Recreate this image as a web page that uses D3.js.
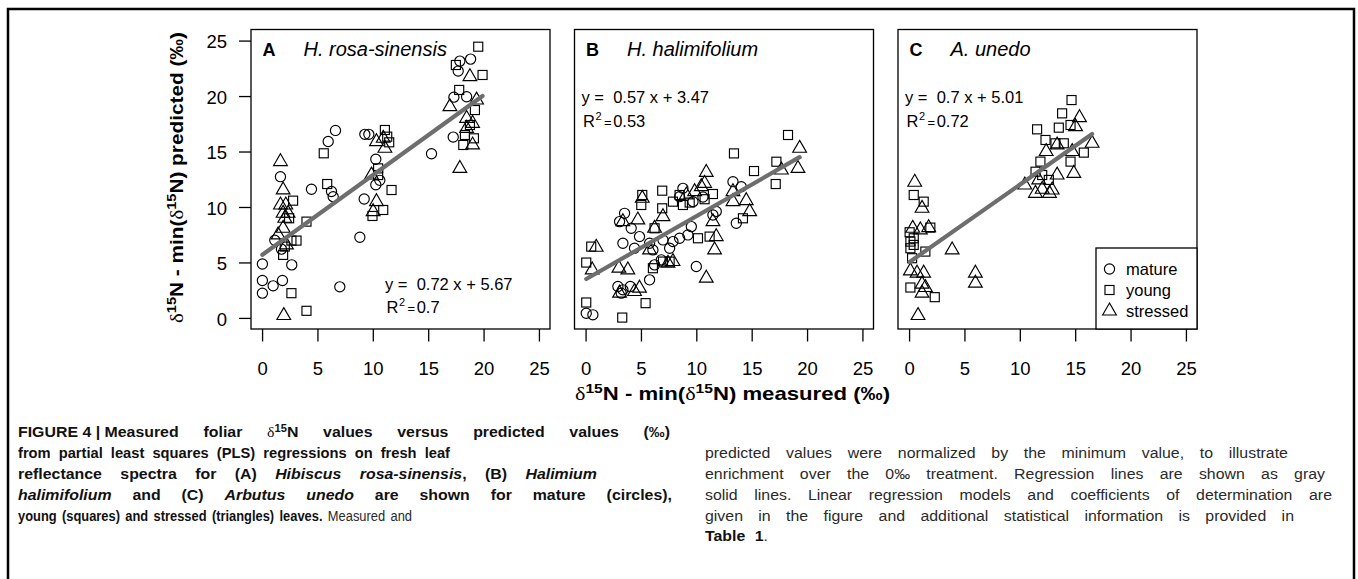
<!DOCTYPE html>
<html>
<head>
<meta charset="utf-8">
<script src="https://cdn.jsdelivr.net/npm/d3@7"></script>
<style>
  body { margin: 0; background: #fff; }
  svg { display: block; }
</style>
</head>
<body>
<svg id="fig" width="1358" height="579"></svg>
<script>
// ---------- data: [measured, predicted] pairs per leaf type ----------
const panelLetters = ["A", "B", "C"];
const speciesNames = ["H. rosa-sinensis", "H. halimifolium", "A. unedo"];
const slopes = [0.72, 0.57, 0.7];
const intercepts = [5.67, 3.47, 5.01];
const rSquared = ["0.7", "0.53", "0.72"];
const xTicks = [0, 5, 10, 15, 20, 25];
const yTicks = [0, 5, 10, 15, 20, 25];
const legendLabels = ["mature", "young", "stressed"];

// Hibiscus rosa-sinensis
const rosaMature = [[0.03,4.86],[0.03,3.37],[0.03,2.23],[1.0,2.89],[1.84,3.37],[2.68,4.78],[7.02,2.8],
  [1.66,12.73],[1.15,7.0],[1.75,6.2],[4.46,11.6],[5.97,15.9],[6.63,16.9],[6.27,11.4],[6.42,10.93],
  [8.83,7.27],[9.28,16.55],[9.64,16.55],[9.22,10.72],[10.27,14.3],[10.27,12.0],[10.63,12.4],
  [15.3,14.8],[17.26,16.3],[17.32,19.9],[17.86,23.15],[17.71,22.25],[18.83,23.33],[18.47,19.94]];
const rosaYoung = [[2.65,2.23],[4.01,0.64],[5.57,14.84],[5.88,12.07],[4.01,8.68],[2.8,10.57],[2.44,8.98],
  [3.11,6.97],[2.65,6.97],[1.9,5.68],[2.05,6.43],[11.09,16.94],[11.3,16.34],[11.48,15.83],[11.69,11.53],
  [10.94,9.73],[9.97,9.19],[10.48,13.48],[10.48,12.88],[19.52,24.45],[19.91,21.9],[17.5,22.8],
  [17.8,20.55],[19.22,18.74],[18.32,16.49],[19.13,16.19],[18.17,15.59],[18.77,17.39]];
const rosaStressed = [[1.96,0.21],[1.66,14.09],[1.9,11.54],[1.66,10.18],[2.14,10.18],[1.9,9.43],[2.35,9.43],
  [1.9,8.08],[1.45,7.48],[2.2,6.58],[2.05,8.98],[9.88,12.88],[10.33,15.89],[10.94,16.19],[11.09,15.29],
  [10.33,10.48],[10.03,9.58],[17.86,13.48],[16.96,19.04],[18.77,21.75],[18.47,17.99],[18.47,17.09],
  [19.01,17.54],[19.01,15.59],[19.37,19.64]];

// Halimium halimifolium
const haliMature = [[0.06,0.42],[0.66,0.28],[2.92,2.83],[3.37,2.53],[4.04,2.83],[3.22,2.23],[3.07,8.68],
  [3.52,9.43],[3.37,6.73],[4.12,8.08],[4.42,6.28],[4.87,7.33],[5.78,3.43],[6.23,4.78],[6.84,5.23],
  [5.78,6.73],[6.08,6.13],[7.89,6.88],[8.49,7.18],[8.79,11.68],[9.24,7.48],[9.55,8.23],[10.0,4.63],
  [11.5,9.28],[11.8,9.6],[13.31,12.28],[14.06,11.83],[13.61,8.53],[6.99,7.03],[7.59,6.28],[8.49,10.93],
  [9.7,10.48],[10.6,10.9]];
const haliYoung = [[0.06,4.99],[0.06,1.39],[0.51,6.43],[3.31,0.03],[5.42,1.33],[5.12,11.08],[5.03,10.18],
  [6.92,11.47],[6.92,9.88],[6.08,4.48],[6.99,5.08],[7.59,5.08],[8.49,11.08],[8.79,10.18],[11.5,11.17],
  [10.15,7.18],[11.2,7.33],[13.4,14.83],[15.21,13.24],[17.23,14.08],[17.17,12.07],[18.28,16.49],
  [14.21,8.98],[6.23,8.08],[7.89,10.48],[10.75,10.7],[9.4,10.4]];
const haliStressed = [[0.96,6.37],[0.6,4.33],[3.01,4.48],[3.82,4.33],[3.07,2.23],[4.42,2.38],[4.87,2.68],
  [5.12,10.78],[4.72,8.83],[6.23,8.08],[6.99,9.13],[7.89,5.08],[7.44,4.93],[9.85,11.38],[10.45,11.83],
  [10.9,13.12],[10.75,12.13],[11.8,7.33],[11.65,6.13],[10.9,3.58],[13.31,10.48],[14.51,10.57],
  [14.82,9.58],[19.33,15.29],[19.18,13.48],[17.68,13.33],[13.31,11.38],[3.37,8.68],[5.78,6.13],
  [9.1,11.08],[11.5,8.68]];

// Arbutus unedo
const unedoMature = [];
const unedoYoung = [[14.67,19.64],[13.82,18.44],[13.52,17.15],[14.58,17.39],[11.56,17.0],[12.32,16.04],
  [13.22,15.74],[13.97,15.74],[15.78,14.9],[14.58,14.09],[11.86,14.09],[12.02,12.88],[11.42,13.18],
  [12.62,12.44],[0.42,11.08],[1.32,10.48],[0.05,7.72],[1.92,8.14],[0.12,6.88],[0.12,6.28],[0.42,7.18],
  [0.42,6.58],[1.47,5.98],[0.27,5.38],[0.12,2.74],[2.32,1.87]];
const unedoStressed = [[15.39,18.05],[15.03,17.24],[16.53,15.74],[13.37,15.59],[12.38,15.0],[14.73,15.0],
  [13.37,12.88],[14.88,13.03],[10.45,11.98],[11.71,12.44],[11.41,11.23],[12.68,11.23],[12.92,11.53],
  [0.51,12.23],[1.17,9.88],[0.33,8.08],[1.02,7.93],[1.77,8.14],[3.89,6.13],[5.99,4.03],[5.99,3.13],
  [0.12,4.24],[0.72,4.03],[1.32,4.03],[1.17,3.04],[1.47,2.74],[1.17,2.23],[0.81,0.21],[12.02,11.6]];

const panelData = [
  [rosaMature, rosaYoung, rosaStressed],
  [haliMature, haliYoung, haliStressed],
  [unedoMature, unedoYoung, unedoStressed]
];

// ---------- layout ----------
const FONT = "'Liberation Sans', Arial, Helvetica, sans-serif";
const SERIF = "'Liberation Serif', 'DejaVu Serif', serif";
const svg = d3.select("#fig");
svg.append("rect").attr("width", 1358).attr("height", 579).attr("fill", "#fff");

// figure frame (open at the bottom)
svg.append("path")
  .attr("d", "M8,579 V9 H1354 V579")
  .attr("fill", "none").attr("stroke", "#000").attr("stroke-width", 2.5);

const plotW = 299, plotH = 299.5, plotTop = 29.5;
const panelLeft = [251, 574.5, 898];

// marker shapes (R pch 1, 0, 2 proportions)
const R0 = 5.1;
function drawMarker(g, type, cx, cy) {
  if (type === 0) {
    g.append("circle").attr("cx", cx).attr("cy", cy).attr("r", R0);
  } else if (type === 1) {
    const h = R0 * 0.886;
    g.append("rect").attr("x", cx - h).attr("y", cy - h).attr("width", 2 * h).attr("height", 2 * h);
  } else {
    const r = R0 * 1.555, yc = R0 * 0.778, xc = R0 * 1.347;
    g.append("path").attr("d", `M${cx},${cy - r} L${cx + xc},${cy + yc} L${cx - xc},${cy + yc} Z`);
  }
}

panelData.forEach((groups, p) => {
  const x0 = panelLeft[p];
  const x = d3.scaleLinear().domain([-1, 26]).range([x0, x0 + plotW]);
  const y = d3.scaleLinear().domain([-1, 26]).range([plotTop + plotH, plotTop]);
  const g = svg.append("g");

  // x axis
  const xa = g.append("g")
    .attr("transform", `translate(0,${plotTop + plotH})`)
    .call(d3.axisBottom(x).tickValues(xTicks).tickSize(12.5).tickPadding(20.5).tickFormat(d3.format("d")));
  xa.select(".domain").remove();
  xa.selectAll("line").attr("stroke", "#000").attr("stroke-width", 1.3);
  xa.selectAll("text").attr("font-family", FONT).attr("font-size", 18.5).attr("fill", "#000");

  // y axis on the first panel only
  if (p === 0) {
    const ya = g.append("g")
      .attr("transform", `translate(${x0},0)`)
      .call(d3.axisLeft(y).tickValues(yTicks).tickSize(12).tickPadding(12).tickFormat(d3.format("d")));
    ya.select(".domain").remove();
    ya.selectAll("line").attr("stroke", "#000").attr("stroke-width", 1.3);
    ya.selectAll("text").attr("font-family", FONT).attr("font-size", 18.5).attr("fill", "#000").attr("dy", "0.39em");
  }

  // points
  const pts = g.append("g").attr("fill", "none").attr("stroke", "#000").attr("stroke-width", 1.15);
  groups.forEach((arr, t) => arr.forEach(d => drawMarker(pts, t, x(d[0]), y(d[1]))));

  // regression line over the measured range
  const all = groups.flat();
  const ext = d3.extent(all, d => d[0]);
  g.append("line")
    .attr("x1", x(ext[0])).attr("y1", y(slopes[p] * ext[0] + intercepts[p]))
    .attr("x2", x(ext[1])).attr("y2", y(slopes[p] * ext[1] + intercepts[p]))
    .attr("stroke", "#6e6e6e").attr("stroke-width", 4.2).attr("stroke-linecap", "round");

  // plot box
  g.append("rect").attr("x", x0).attr("y", plotTop).attr("width", plotW).attr("height", plotH)
    .attr("fill", "none").attr("stroke", "#000").attr("stroke-width", 1.3);

  // panel letter and species
  g.append("text").attr("x", x0 + 11.5).attr("y", 56).attr("font-family", FONT)
    .attr("font-size", 18).attr("font-weight", "bold").text(panelLetters[p]);
  g.append("text").attr("x", x0 + 52.5).attr("y", 56).attr("font-family", FONT)
    .attr("font-size", 20).attr("font-style", "italic").text(speciesNames[p]);

  // regression equation
  const ex = p === 0 ? x0 + 134 : x0 + 7;
  const ey = p === 0 ? 289.7 : 103;
  g.append("text").attr("x", ex).attr("y", ey).attr("font-family", FONT).attr("font-size", 16.5)
    .style("white-space", "pre").text(`y =  ${slopes[p]} x + ${intercepts[p]}`);
  const rt = g.append("text").attr("x", ex + 1.5).attr("y", ey + 23.5).attr("font-family", FONT).attr("font-size", 16.5);
  rt.append("tspan").text("R");
  rt.append("tspan").attr("font-size", 11).attr("dy", -7).attr("dx", 0.5).text("2");
  rt.append("tspan").attr("font-size", 13).attr("dy", 7).attr("dx", 2.5).text("=");
  rt.append("tspan").attr("dx", 1.5).text(rSquared[p]);

  // legend in the last panel
  if (p === 2) {
    const lx0 = 1096, ly0 = 248;
    g.append("rect").attr("x", lx0).attr("y", ly0).attr("width", x0 + plotW - lx0).attr("height", plotTop + plotH - ly0)
      .attr("fill", "#fff").attr("stroke", "#000").attr("stroke-width", 1.3);
    const rows = [269, 290, 311];
    const lg = g.append("g").attr("fill", "none").attr("stroke", "#000").attr("stroke-width", 1.15);
    legendLabels.forEach((lab, i) => {
      drawMarker(lg, i, 1109.5, rows[i]);
      g.append("text").attr("x", 1126).attr("y", rows[i] + 6).attr("font-family", FONT)
        .attr("font-size", 16.5).text(lab);
    });
  }
});

// ---------- axis titles ----------
function axisTitle(parent, word) {
  const t = parent.append("text").attr("font-family", FONT).attr("font-size", 18.5)
    .attr("font-weight", "bold").attr("text-anchor", "middle");
  t.append("tspan").attr("font-family", SERIF).attr("font-weight", "normal").text("δ");
  t.append("tspan").attr("font-size", 13).attr("dy", -7).text("15");
  t.append("tspan").attr("dy", 7).text("N - min(");
  t.append("tspan").attr("font-family", SERIF).attr("font-weight", "normal").text("δ");
  t.append("tspan").attr("font-size", 13).attr("dy", -7).text("15");
  t.append("tspan").attr("dy", 7).text(`N) ${word} (‰)`);
  return t;
}
axisTitle(svg.append("g").attr("transform", "translate(732.5,400)"), "measured")
  .attr("textLength", 315).attr("lengthAdjust", "spacingAndGlyphs");
axisTitle(svg.append("g").attr("transform", "translate(182.5,177.5) rotate(-90)"), "predicted")
  .attr("textLength", 291).attr("lengthAdjust", "spacingAndGlyphs");

// ---------- caption ----------
// style codes: b bold, bi bold italic, r regular, d delta symbol, s superscript (bold)
const captionLeft = [
  [["b", "FIGURE\u00A04\u00A0|\u00A0Measured foliar "], ["d", "δ"], ["s", "15"], ["b", "N values versus predicted values (‰)"]],
  [["b", "from partial least squares (PLS) regressions on fresh leaf"]],
  [["b", "reflectance spectra for (A) "], ["bi", "Hibiscus rosa-sinensis"], ["b", ", (B) "], ["bi", "Halimium"]],
  [["bi", "halimifolium"], ["b", " and (C) "], ["bi", "Arbutus unedo"], ["b", " are shown for mature (circles),"]],
  [["b", "young (squares) and stressed (triangles) leaves."], ["r", " Measured and"]]
];
const captionRight = [
  [["r", "predicted values were normalized by the minimum value, to illustrate"]],
  [["r", "enrichment over the 0‰ treatment. Regression lines are shown as gray"]],
  [["r", "solid lines. Linear regression models and coefficients of determination are"]],
  [["r", "given in the figure and additional statistical information is provided in"]],
  [["b", "Table 1"], ["r", "."]]
];
const leftEnds = [670, 450, 597, 672, 412];
const rightEnds = [1288, 1325, 1332, 1294, 768];
const leftBase = [437, 458, 479, 499.5, 520.5];
const rightBase = [458, 479, 499.5, 520.5, 541];

function splitWords(runs) {
  const words = [];
  let cur = [];
  runs.forEach(([s, txt]) => {
    let buf = "";
    for (const ch of txt) {
      if (ch === " ") {
        if (buf) { cur.push([s, buf]); buf = ""; }
        if (cur.length) { words.push(cur); cur = []; }
      } else buf += ch;
    }
    if (buf) cur.push([s, buf]);
  });
  if (cur.length) words.push(cur);
  return words;
}

const cap = svg.append("g").attr("font-family", FONT).attr("font-size", 15).attr("fill", "#111");
const GAP = 8, MIN_GAP = 3.5;
function captionLine(runs, xStart, xEnd, base) {
  const words = splitWords(runs);
  const nodes = words.map(w => {
    const holder = cap.append("g");
    const t = holder.append("text").attr("x", 0).attr("y", 0).style("white-space", "pre");
    let shifted = false;
    w.forEach(([s, txt]) => {
      const ts = t.append("tspan").text(txt);
      if (s === "b") ts.attr("font-weight", "bold");
      if (s === "bi") ts.attr("font-weight", "bold").attr("font-style", "italic");
      if (s === "r") ts.attr("fill", "#2a2a2a");
      if (s === "d") ts.attr("font-family", SERIF);
      if (s === "s") { ts.attr("font-weight", "bold").attr("font-size", 10.5).attr("dy", -5); shifted = true; }
      else if (shifted) { ts.attr("dy", 5); shifted = false; }
    });
    return holder;
  });
  const widths = nodes.map(n => n.select("text").node().getComputedTextLength());
  const total = d3.sum(widths);
  const nGaps = Math.max(words.length - 1, 1);
  // horizontal glyph scale so the words fill the line with a steady gap
  let sx = (xEnd - xStart - nGaps * GAP) / total;
  sx = Math.max(0.86, Math.min(1.06, sx));
  let gap = words.length > 1 ? (xEnd - xStart - total * sx) / (words.length - 1) : 0;
  if (words.length > 1) gap = Math.max(MIN_GAP, gap);
  let xpos = xStart;
  nodes.forEach((n, i) => {
    n.attr("transform", `translate(${xpos},${base}) scale(${sx},1)`);
    xpos += widths[i] * sx + gap;
  });
}
captionLeft.forEach((runs, i) => captionLine(runs, 18, leftEnds[i], leftBase[i]));
captionRight.forEach((runs, i) => captionLine(runs, 705, rightEnds[i], rightBase[i]));
</script>
</body>
</html>
